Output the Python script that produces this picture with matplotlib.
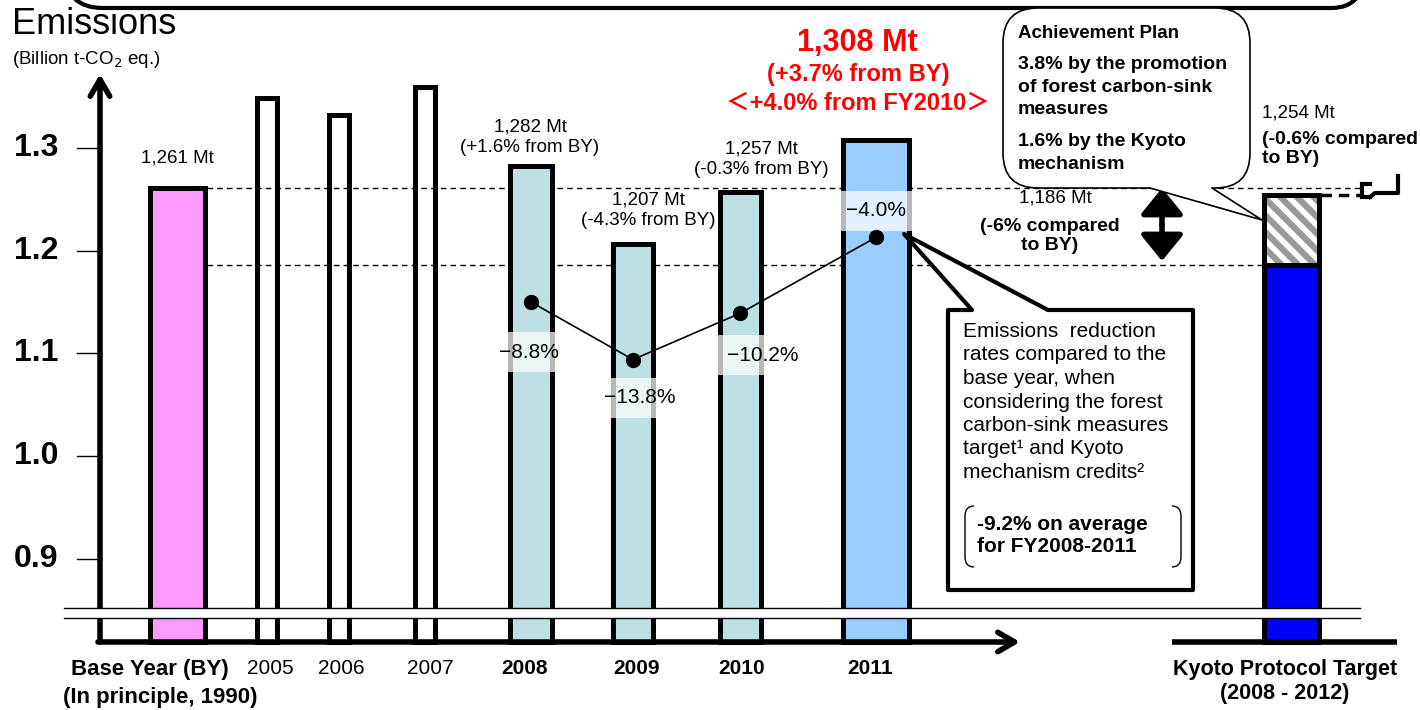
import matplotlib.pyplot as plt
from matplotlib.patches import Rectangle, Polygon, FancyBboxPatch, FancyArrowPatch
from matplotlib.path import Path
from matplotlib.patches import PathPatch

plt.rcParams['font.family'] = ['Liberation Sans', 'Noto Sans CJK JP', 'DejaVu Sans']
plt.rcParams['hatch.linewidth'] = 4.5

# data (billion t-CO2 eq.)
categories = ['BY', '2005', '2006', '2007', '2008', '2009', '2010', '2011']
emissions = [1.261, 1.349, 1.332, 1.359, 1.282, 1.207, 1.257, 1.308]
bar_colors = ['#FF99FF', 'none', 'none', 'none', '#BCE0E3', '#BCE0E3', '#BCE0E3', '#99CCFF']
# reduction rate when counting sinks and credits (plotted values)
line_years = ['2008', '2009', '2010', '2011']
line_values = [1.150, 1.094, 1.139, 1.213]
line_labels = ['\u22128.8%', '\u221213.8%', '\u221210.2%', '\u22124.0%']
kyoto_target = 1.186
kyoto_with_plan = 1.254
yticks = [1.3, 1.2, 1.1, 1.0, 0.9]

# layout (pixel x positions, widths)
xpos = [177, 267, 339, 425, 531, 633, 740, 876]
widths = [55, 20, 20, 20, 42, 40, 41, 66]
kyoto_x = 1291
base = 0.819

fig = plt.figure(figsize=(14.2, 7.1), dpi=100)
ax = fig.add_axes([0, 0, 1, 1])
ax.set_xlim(0, 1420)
ax.set_ylim(1.3 - 562 / 1027, 1.3 + 148 / 1027)
ax.axis('off')

# reference dashed lines
ax.plot([207, 1362], [emissions[0], emissions[0]], ls=(0, (4, 3)), color='black', lw=1, zorder=1)
ax.plot([207, 1262], [kyoto_target, kyoto_target], ls=(0, (4, 3)), color='black', lw=1, zorder=1)

# bars
for x, w, v, c in zip(xpos, widths, emissions, bar_colors):
    ax.bar(x, v - base, width=w, bottom=base, color=c, edgecolor='black', linewidth=3.6, zorder=2)

# Kyoto target bar
ax.bar(kyoto_x, kyoto_target - base, width=55, bottom=base, color='#0000FF', edgecolor='black', linewidth=3.6, zorder=2)
ax.bar(kyoto_x, kyoto_with_plan - kyoto_target, width=55, bottom=kyoto_target, color='white',
       edgecolor='#999999', hatch='\\\\', linewidth=0, zorder=2)
ax.bar(kyoto_x, kyoto_with_plan - kyoto_target, width=55, bottom=kyoto_target, color='none',
       edgecolor='black', linewidth=3.6, zorder=3)
ax.plot([1321, 1360], [kyoto_with_plan, kyoto_with_plan], ls=(0, (3, 2)), color='black', lw=2.5, zorder=3)

# percentage boxes
pct_box_y = [1.101, 1.057, 1.098, 1.239]
pct_text_x = [529, 640, 763, 876]
lx = [xpos[categories.index(y)] for y in line_years]
lw_ = [widths[categories.index(y)] for y in line_years]
for x, w, yb, tx, lab in zip(lx, lw_, pct_box_y, pct_text_x, line_labels):
    ax.add_patch(Rectangle((x - w / 2 - 3, yb - 0.0195), w + 6, 0.039, facecolor='white',
                           edgecolor='none', alpha=0.72, zorder=4))
    ax.text(tx, yb, lab, ha='center', va='center', fontsize=15, zorder=5)

ax.plot(lx, line_values, color='black', lw=1.2, marker='o', markersize=10, zorder=6)

# y axis ticks and labels
for t in yticks:
    ax.plot([77, 100], [t, t], color='black', lw=1, zorder=3)
    ax.text(58, t, f'{t:.1f}', ha='right', va='center', fontsize=23, fontweight='bold')

# axes arrows
ax.add_patch(FancyArrowPatch((100, base), (100, 1.372), arrowstyle='->,head_length=12,head_width=7',
                             mutation_scale=1, lw=4, color='black', zorder=5, shrinkA=0, shrinkB=0))
ax.add_patch(FancyArrowPatch((98, base), (1020, base), arrowstyle='->,head_length=12,head_width=7',
                             mutation_scale=1, lw=4, color='black', zorder=5, shrinkA=0, shrinkB=0))
ax.plot([1172, 1397], [base, base], color='black', lw=4, solid_capstyle='butt', zorder=5)

# overlay in pixel coordinates for annotations
ov = fig.add_axes([0, 0, 1, 1])
ov.set_xlim(0, 1420)
ov.set_ylim(710, 0)
ov.axis('off')
ov.patch.set_alpha(0)

# broken axis band
ov.add_patch(Rectangle((64, 608), 1296, 10, facecolor='white', edgecolor='none', zorder=1))
ov.plot([64, 1360], [608, 608], color='black', lw=1)
ov.plot([64, 1360], [618, 618], color='black', lw=1)

# top frame
ov.add_patch(FancyBboxPatch((65, -90), 1305, 98, boxstyle='round,pad=0,rounding_size=38',
                            facecolor='none', edgecolor='black', lw=3))

ov.text(12, 34, 'Emissions', fontsize=26, va='baseline')
ov.text(12, 64, '(Billion t-CO$_2$ eq.)', fontsize=13.5, va='baseline')

# bar value labels
ov.text(177, 158, '1,261 Mt', ha='center', va='center', fontsize=13.5)
ov.text(530, 137, '1,282 Mt\n(+1.6% from BY)', ha='center', va='center', fontsize=13.5, linespacing=1.25)
ov.text(648, 210, '1,207 Mt\n(-4.3% from BY)', ha='center', va='center', fontsize=13.5, linespacing=1.25)
ov.text(761, 159, '1,257 Mt\n(-0.3% from BY)', ha='center', va='center', fontsize=13.5, linespacing=1.25)
ov.text(857, 43, '1,308 Mt', ha='center', va='center', fontsize=22, fontweight='bold', color='#FF0000')
ov.text(858, 75, '(+3.7% from BY)', ha='center', va='center', fontsize=17, fontweight='bold', color='#FF0000')
ov.text(858, 103, '\uff1c+4.0% from FY2010\uff1e', ha='center', va='center', fontsize=17,
        fontweight='bold', color='#FF0000')

ov.text(1262, 113, '1,254 Mt', ha='left', va='center', fontsize=13.5)
ov.text(1262, 149, '(-0.6% compared\nto BY)', ha='left', va='center', fontsize=14, fontweight='bold',
        linespacing=1.15)
ov.text(1055, 198, '1,186 Mt', ha='center', va='center', fontsize=13.5)
ov.text(1050, 236, '(-6% compared\nto BY)', ha='center', va='center', fontsize=14, fontweight='bold',
        linespacing=1.15)

# double arrow
ov.add_patch(FancyArrowPatch((1162, 225), (1162, 188), arrowstyle='-|>,head_length=16,head_width=13',
                             mutation_scale=1, lw=4, color='black', shrinkA=0, shrinkB=0))
ov.add_patch(FancyArrowPatch((1162, 225), (1162, 261), arrowstyle='-|>,head_length=16,head_width=13',
                             mutation_scale=1, lw=4, color='black', shrinkA=0, shrinkB=0))

# small bracket to the right of the Kyoto bar
ov.plot([1370, 1362, 1362, 1370], [184, 184, 197, 197], color='black', lw=3, solid_joinstyle='miter')
ov.plot([1370, 1375, 1398, 1398], [197, 193, 193, 176], color='black', lw=3)

# achievement plan bubble
ov.add_patch(FancyBboxPatch((1003, 8), 247, 180, boxstyle='round,pad=0,rounding_size=35',
                            facecolor='white', edgecolor='black', lw=1.2, zorder=3))
ov.add_patch(Polygon([(1150, 184), (1150, 188), (1262, 220), (1212, 188), (1212, 184)],
                     closed=True, facecolor='white', edgecolor='none', zorder=4))
ov.plot([1150, 1262, 1212], [188, 220, 188], color='black', lw=1.2, zorder=5)
ov.text(1018, 33, 'Achievement Plan', fontsize=13.5, fontweight='bold', va='center', zorder=6)
ov.text(1018, 87, '3.8% by the promotion\nof forest carbon-sink\nmeasures', fontsize=14,
        fontweight='bold', va='center', linespacing=1.4, zorder=6)
ov.text(1018, 153, '1.6% by the Kyoto\nmechanism', fontsize=14, fontweight='bold', va='center',
        linespacing=1.4, zorder=6)

# callout box for reduction rates
ov.add_patch(Polygon([(948, 310), (972, 310), (904, 234), (1048, 310), (1193, 310), (1193, 590), (948, 590)],
                     closed=True, facecolor='white', edgecolor='black', lw=3, joinstyle='round', zorder=3))
ov.text(963, 322, 'Emissions  reduction\nrates compared to the\nbase year, when\nconsidering the forest\n'
        'carbon-sink measures\ntarget\u00b9 and Kyoto\nmechanism credits\u00b2',
        fontsize=15, va='top', ha='left', linespacing=1.3, zorder=6)
ov.text(977, 536, '-9.2% on average\nfor FY2008-2011', fontsize=15, fontweight='bold', va='center',
        ha='left', linespacing=1.2, zorder=6)
for sx in (1, -1):
    x0 = 974 if sx == 1 else 1172
    x1 = x0 - 9 * sx
    verts = [(x0, 506), (x1, 506), (x1, 516), (x1, 557), (x1, 567), (x0, 567)]
    codes = [Path.MOVETO, Path.CURVE3, Path.CURVE3, Path.LINETO, Path.CURVE3, Path.CURVE3]
    ov.add_patch(PathPatch(Path(verts, codes), facecolor='none', edgecolor='black', lw=1, zorder=6))

# x labels
ov.text(150, 669, 'Base Year (BY)', ha='center', va='center', fontsize=16, fontweight='bold')
ov.text(160, 697, '(In principle, 1990)', ha='center', va='center', fontsize=16, fontweight='bold')
for lab, x in zip(['2005', '2006', '2007'], [270, 341, 430]):
    ov.text(x, 669, lab, ha='center', va='center', fontsize=15)
for lab, x in zip(['2008', '2009', '2010', '2011'], [525, 636, 742, 870]):
    ov.text(x, 669, lab, ha='center', va='center', fontsize=15, fontweight='bold')
ov.text(1285, 669, 'Kyoto Protocol Target', ha='center', va='center', fontsize=15.5, fontweight='bold')
ov.text(1285, 693, '(2008 - 2012)', ha='center', va='center', fontsize=15.5, fontweight='bold')

fig.savefig('out.png', dpi=100, facecolor='white')
